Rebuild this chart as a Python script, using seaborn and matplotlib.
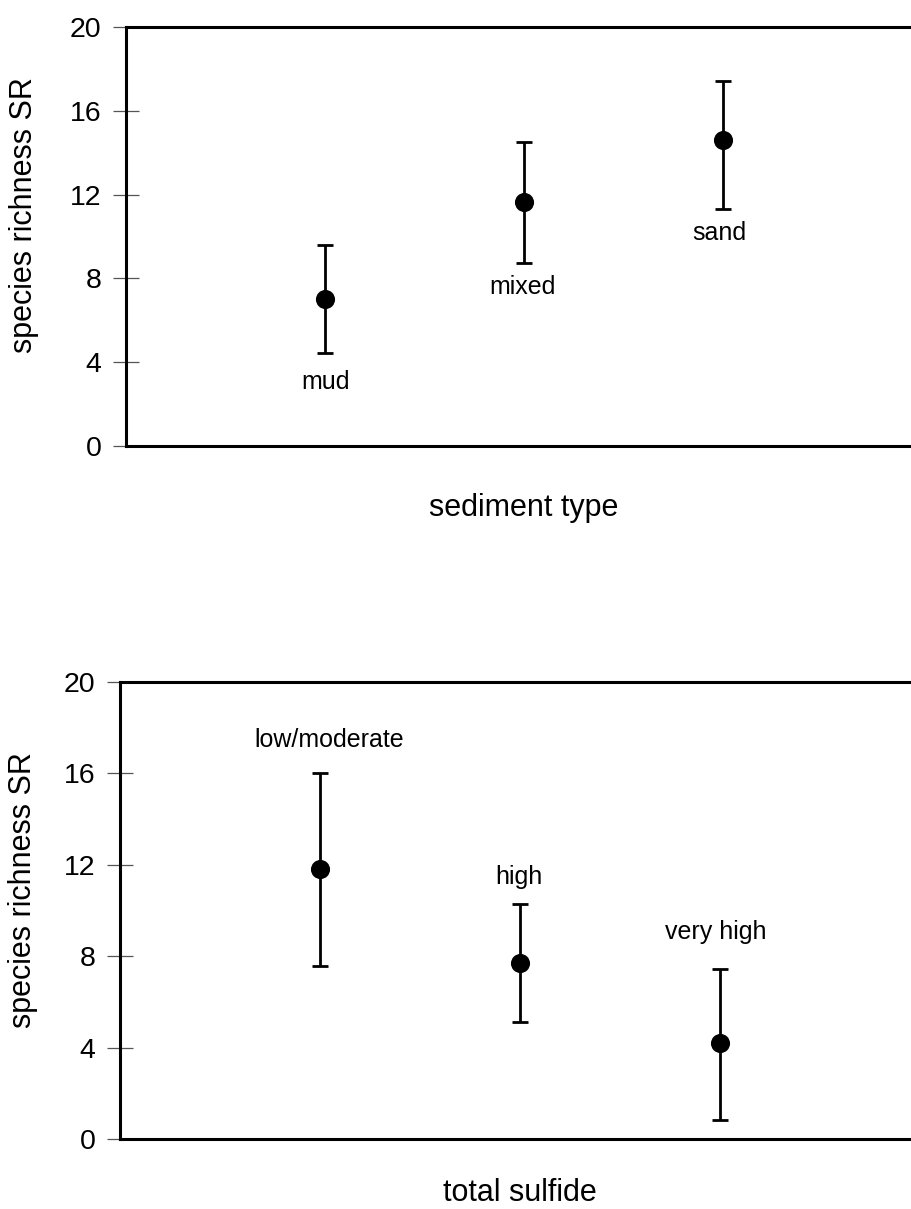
import matplotlib
matplotlib.use("Agg")
import matplotlib.pyplot as plt
import seaborn as sns
import numpy as np

# Species richness (mean with lower / upper bounds) by sediment type
sediment = ["mud", "mixed", "sand"]
sed_mean = [7.0, 11.65, 14.6]
sed_low = [4.45, 8.75, 11.3]
sed_high = [9.6, 14.5, 17.4]

# Species richness by total sulfide class
sulfide = ["low/moderate", "high", "very high"]
sul_mean = [11.8, 7.7, 4.2]
sul_low = [7.55, 5.1, 0.85]
sul_high = [16.0, 10.3, 7.45]

y_ticks = [0, 4, 8, 12, 16, 20]

sns.set_theme(style="white")
plt.rcParams["font.family"] = ["Liberation Sans", "DejaVu Sans"]
plt.rcParams["text.color"] = "black"
plt.rcParams["axes.labelcolor"] = "black"
plt.rcParams["ytick.labelcolor"] = "black"

fig = plt.figure(figsize=(9.12, 12.09), dpi=100)
ax_top = fig.add_axes([0.1382, 0.6311, 0.873, 0.3466])
ax_bot = fig.add_axes([0.1316, 0.0579, 0.877, 0.378])


def draw_panel(ax, cats, mean, low, high, xlabel, label_y, label_dx, xpad):
    x = np.arange(len(cats))
    mean = np.asarray(mean)
    yerr = [mean - np.asarray(low), np.asarray(high) - mean]
    ax.errorbar(x, mean, yerr=yerr, fmt="none", ecolor="black",
                elinewidth=2.0, capsize=6, capthick=2.0, zorder=2)
    sns.scatterplot(x=x, y=mean, ax=ax, color="black", s=190,
                    marker="o", edgecolor="black", linewidth=0, zorder=3)
    for i, name in enumerate(cats):
        ax.text(x[i] + label_dx[i], label_y[i], name, ha="center",
                va="center", fontsize=18, color="black")

    ax.set_xlim(-1, 3)
    ax.set_ylim(0, 20)
    ax.set_yticks(y_ticks)
    ax.set_xticks([])
    ax.tick_params(axis="y", direction="inout", length=19, width=0.9,
                   color="#555555", labelcolor="black", labelsize=20.5,
                   pad=8, left=True)
    for side in ("top", "left", "bottom"):
        ax.spines[side].set_visible(True)
        ax.spines[side].set_color("black")
        ax.spines[side].set_linewidth(2.2)
    ax.spines["right"].set_visible(False)
    ax.set_ylabel("species richness SR", fontsize=22, color="black")
    ax.set_xlabel(xlabel, fontsize=22, labelpad=xpad, color="black")
    ax.grid(False)


draw_panel(ax_top, sediment, sed_mean, sed_low, sed_high, "sediment type",
           label_y=[3.05, 7.6, 10.15], label_dx=[0.0, -0.01, -0.02], xpad=34)
draw_panel(ax_bot, sulfide, sul_mean, sul_low, sul_high, "total sulfide",
           label_y=[17.46, 11.47, 9.06], label_dx=[0.045, -0.005, -0.02],
           xpad=28)

ax_top.yaxis.set_label_coords(-0.109, 0.55)
ax_bot.yaxis.set_label_coords(-0.102, 0.545)

fig.savefig("out.png", dpi=100, facecolor="white")
